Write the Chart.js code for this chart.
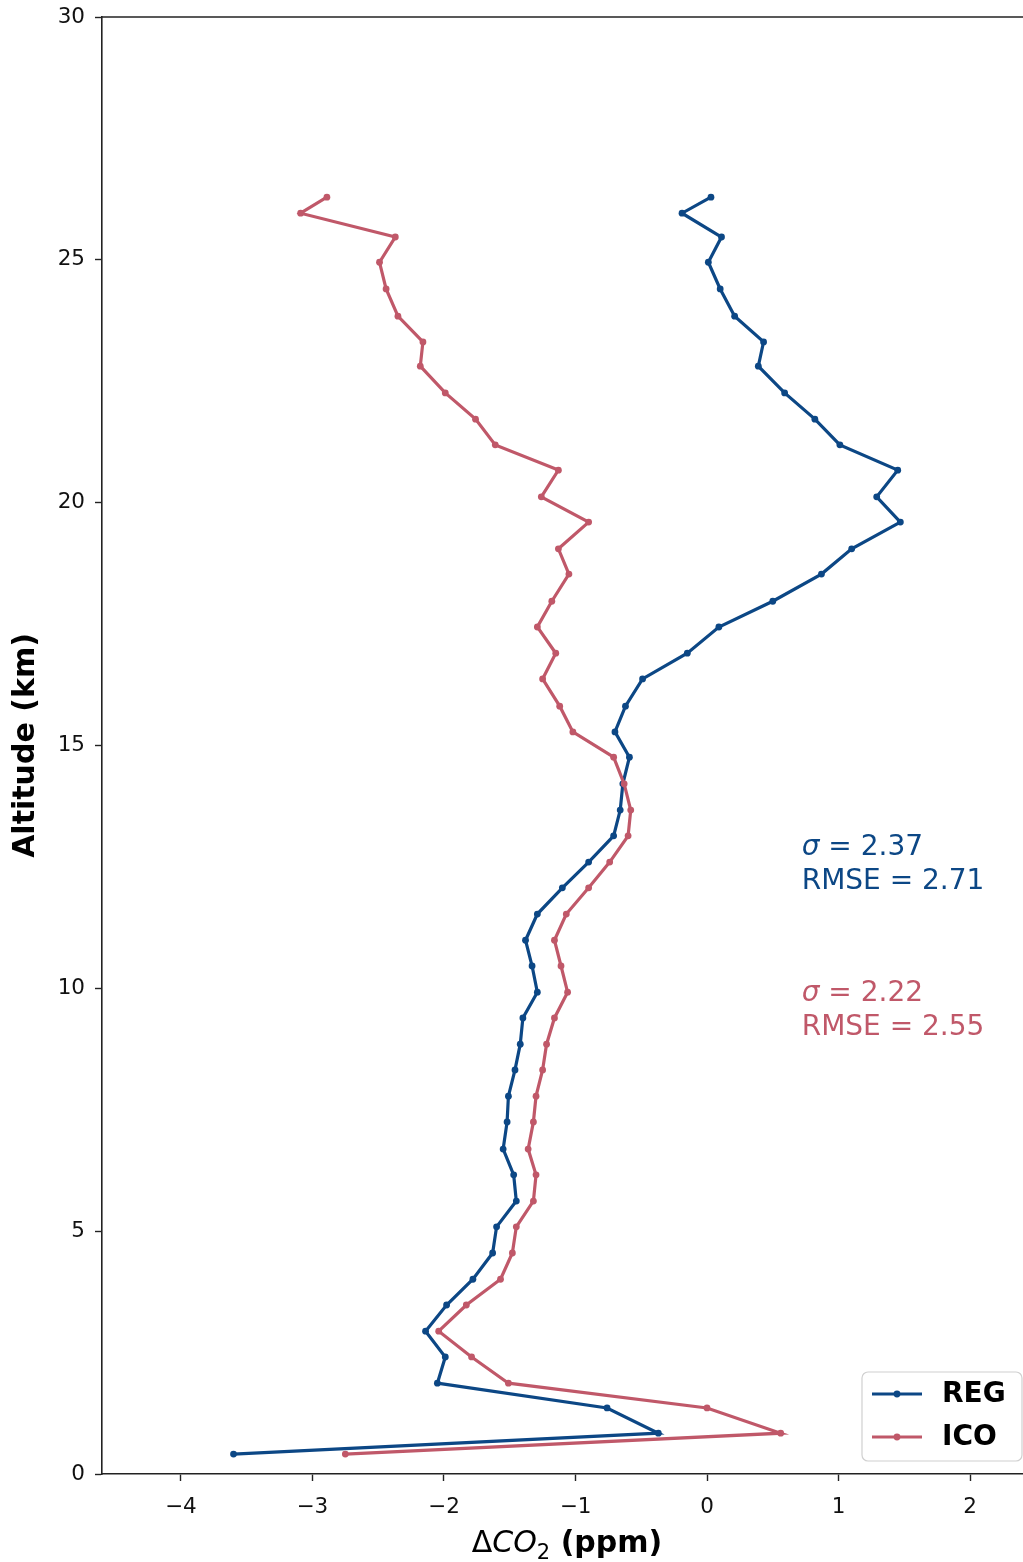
<!DOCTYPE html>
<html>
<head>
<meta charset="utf-8">
<title>CO2 profile difference</title>
<script src="https://cdn.jsdelivr.net/npm/chart.js@4.4.0/dist/chart.umd.min.js"></script>
<style>
  html, body { margin: 0; padding: 0; background: #fff; overflow: hidden; }
  canvas { display: block; }
</style>
</head>
<body>
<canvas id="profile" width="1040" height="1562"></canvas>
<script>
"use strict";

// model levels (km), bottom to top
var altitude = [0.41, 0.84, 1.36, 1.87, 2.41, 2.94, 3.48, 4.01, 4.55, 5.09,
	5.62, 6.16, 6.69, 7.25, 7.78, 8.32, 8.85, 9.39, 9.92, 10.46,
	10.99, 11.53, 12.07, 12.60, 13.14, 13.67, 14.21, 14.76, 15.28, 15.81,
	16.37, 16.90, 17.44, 17.97, 18.53, 19.05, 19.60, 20.12, 20.67, 21.19,
	21.72, 22.26, 22.81, 23.31, 23.84, 24.40, 24.95, 25.47, 25.96, 26.29];

// mean CO2 difference (ppm) at each level
var regDelta = [-3.60, -0.37, -0.76, -2.05, -1.99, -2.14, -1.98, -1.78, -1.63, -1.60,
	-1.45, -1.47, -1.55, -1.52, -1.51, -1.46, -1.42, -1.40, -1.29, -1.33,
	-1.38, -1.29, -1.10, -0.90, -0.71, -0.66, -0.64, -0.59, -0.70, -0.62,
	-0.49, -0.15, 0.09, 0.50, 0.87, 1.10, 1.47, 1.29, 1.45, 1.01,
	0.82, 0.59, 0.39, 0.43, 0.21, 0.10, 0.01, 0.11, -0.19, 0.03];

var icoDelta = [-2.75, 0.56, 0.00, -1.51, -1.79, -2.04, -1.83, -1.57, -1.48, -1.45,
	-1.32, -1.30, -1.36, -1.32, -1.30, -1.25, -1.22, -1.16, -1.06, -1.11,
	-1.16, -1.07, -0.90, -0.74, -0.60, -0.58, -0.63, -0.71, -1.02, -1.12,
	-1.25, -1.15, -1.29, -1.18, -1.05, -1.13, -0.90, -1.26, -1.13, -1.61,
	-1.76, -1.99, -2.18, -2.16, -2.35, -2.44, -2.49, -2.37, -3.09, -2.89];

var seriesNames = ["REG", "ICO"];
var regStats = [2.37, 2.71];   // sigma, RMSE
var icoStats = [2.22, 2.55];

var xTicks = [-4, -3, -2, -1, 0, 1, 2];
var yTicks = [0, 5, 10, 15, 20, 25, 30];

var REG_COLOR = "#0c4785";
var ICO_COLOR = "#c05869";
var FONT = "'DejaVu Sans', 'Liberation Sans', sans-serif";

function toPoints(values) {
	return altitude.map(function(a, i) {
		return { x: values[i], y: a };
	});
}

function minusSign(v) {
	return v < 0 ? "\u2212" + Math.abs(v) : String(v);
}

function lineDataset(label, values, color, order) {
	return {
		label: label,
		data: toPoints(values),
		showLine: true,
		borderColor: color,
		backgroundColor: color,
		borderWidth: 3.2,
		pointRadius: 3.4,
		pointBackgroundColor: color,
		pointBorderWidth: 0,
		tension: 0,
		order: order
	};
}

// spines, axis titles, stats text and legend box
var decorations = {
	id: "decorations",
	afterDraw: function(chart) {
		var ctx = chart.ctx;
		var area = chart.chartArea;
		var xs = chart.scales.x;
		var ys = chart.scales.y;
		ctx.save();

		ctx.strokeStyle = "#222";
		ctx.lineWidth = 1.6;
		ctx.beginPath();
		ctx.moveTo(area.left, area.top);
		ctx.lineTo(area.right, area.top);
		ctx.stroke();

		// y title
		ctx.fillStyle = "#000";
		ctx.save();
		ctx.translate(26, (area.top + area.bottom) / 2);
		ctx.rotate(-Math.PI / 2);
		ctx.font = "bold 30px " + FONT;
		ctx.textAlign = "center";
		ctx.textBaseline = "middle";
		ctx.fillText("Altitude (km)", 0, 0);
		ctx.restore();

		// x title: Delta CO_2 (ppm)
		var parts = [
			{ t: "\u0394", f: "30px " + FONT, dy: 0 },
			{ t: "CO", f: "italic 30px " + FONT, dy: 0 },
			{ t: "2", f: "21px " + FONT, dy: 7 },
			{ t: " (ppm)", f: "bold 30px " + FONT, dy: 0 }
		];
		var total = 0;
		parts.forEach(function(p) {
			ctx.font = p.f;
			p.w = ctx.measureText(p.t).width;
			total += p.w;
		});
		var cx = (area.left + area.right) / 2 + 4 - total / 2;
		ctx.textAlign = "left";
		ctx.textBaseline = "alphabetic";
		parts.forEach(function(p) {
			ctx.font = p.f;
			ctx.fillText(p.t, cx, 1552 + p.dy);
			cx += p.w;
		});

		// stats per series
		function statBlock(stats, color, yTop) {
			var x0 = xs.getPixelForValue(0.72);
			var y0 = ys.getPixelForValue(yTop);
			ctx.fillStyle = color;
			ctx.textBaseline = "middle";
			ctx.font = "italic 28px " + FONT;
			ctx.fillText("\u03c3", x0, y0);
			var sw = ctx.measureText("\u03c3").width;
			ctx.font = "28px " + FONT;
			ctx.fillText(" = " + stats[0].toFixed(2), x0 + sw, y0);
			ctx.fillText("RMSE = " + stats[1].toFixed(2), x0, y0 + 34);
		}
		statBlock(regStats, REG_COLOR, 12.89);
		statBlock(icoStats, ICO_COLOR, 9.88);

		// legend, lower right
		var bx = 862, by = 1372, bw = 160, bh = 89, r = 6;
		ctx.fillStyle = "rgba(255,255,255,0.85)";
		ctx.strokeStyle = "#d0d0d0";
		ctx.lineWidth = 1.2;
		ctx.beginPath();
		ctx.roundRect(bx, by, bw, bh, r);
		ctx.fill();
		ctx.stroke();
		[[seriesNames[0], REG_COLOR, 1394], [seriesNames[1], ICO_COLOR, 1437]].forEach(function(row) {
			ctx.strokeStyle = row[1];
			ctx.fillStyle = row[1];
			ctx.lineWidth = 3.2;
			ctx.beginPath();
			ctx.moveTo(872, row[2]);
			ctx.lineTo(922, row[2]);
			ctx.stroke();
			ctx.beginPath();
			ctx.arc(897, row[2], 3.4, 0, Math.PI * 2);
			ctx.fill();
			ctx.fillStyle = "#000";
			ctx.font = "bold 28px " + FONT;
			ctx.textBaseline = "middle";
			ctx.fillText(row[0], 942, row[2] + 1);
		});

		ctx.restore();
	}
};

function keepTicks(list) {
	return function(scale) {
		scale.ticks = list.map(function(v) { return { value: v }; });
	};
}

new Chart(document.getElementById("profile").getContext("2d"), {
	type: "scatter",
	data: {
		datasets: [
			lineDataset(seriesNames[0], regDelta, REG_COLOR, 1),
			lineDataset(seriesNames[1], icoDelta, ICO_COLOR, 0)
		]
	},
	options: {
		responsive: false,
		animation: false,
		layout: { padding: { left: 0, right: 16, top: 17, bottom: 0 } },
		plugins: {
			legend: { display: false },
			tooltip: { enabled: false }
		},
		scales: {
			x: {
				type: "linear",
				min: -4.6,
				max: 2.41,
				afterBuildTicks: keepTicks(xTicks),
				afterFit: function(scale) {
					scale.height = 88;
					scale.paddingLeft = 0;
					scale.paddingRight = 0;
				},
				grid: { drawOnChartArea: false, drawTicks: true, tickLength: 7, tickWidth: 1.4, color: "#222" },
				border: { display: true, color: "#222", width: 1.6 },
				ticks: {
					color: "#111",
					padding: 14,
					font: { family: FONT, size: 21.5 },
					callback: function(v) { return minusSign(v); }
				}
			},
			y: {
				type: "linear",
				min: 0,
				max: 30,
				afterBuildTicks: keepTicks(yTicks),
				afterFit: function(scale) {
					scale.width = 102;
					scale.paddingTop = 0;
					scale.paddingBottom = 0;
				},
				grid: { drawOnChartArea: false, drawTicks: true, tickLength: 7, tickWidth: 1.4, color: "#222" },
				border: { display: true, color: "#222", width: 1.6 },
				ticks: {
					color: "#111",
					padding: 10,
					font: { family: FONT, size: 21.5 }
				}
			}
		}
	},
	plugins: [decorations]
});
</script>
</body>
</html>
